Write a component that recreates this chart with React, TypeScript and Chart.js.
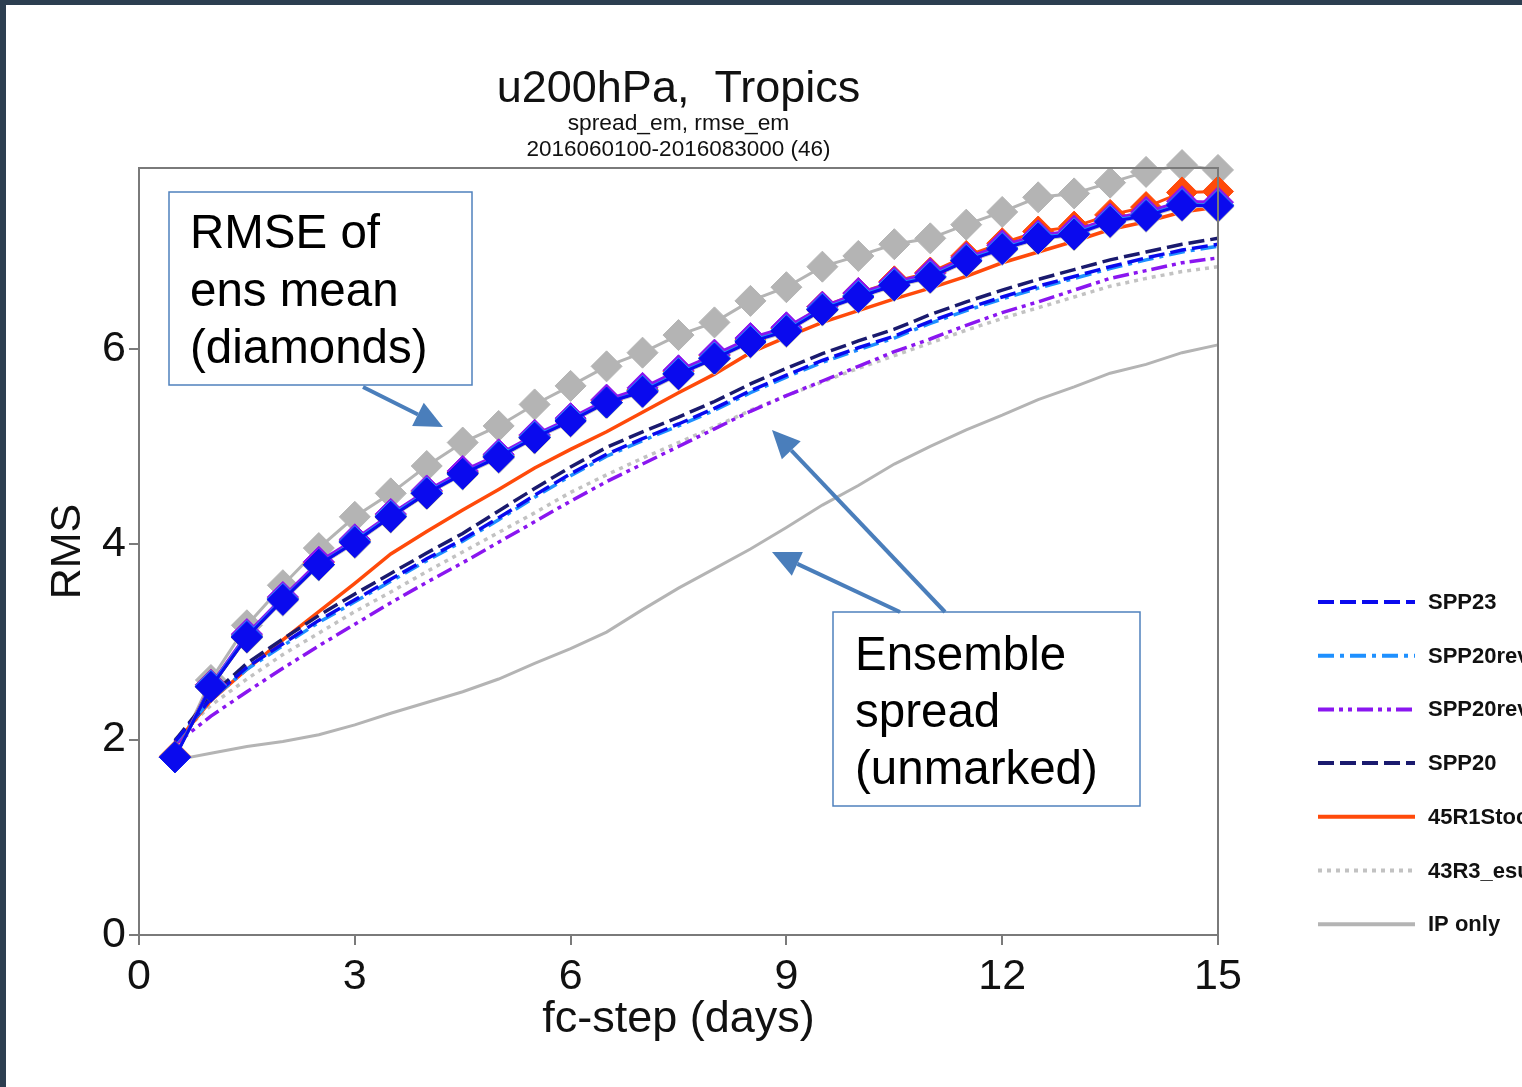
import React, { useEffect, useRef } from 'react';
import { Chart, registerables } from 'chart.js';

Chart.register(...registerables);

const FONT = '"Liberation Sans", Arial, Helvetica, sans-serif';

// forecast steps (days)
const steps = [0.5, 1, 1.5, 2, 2.5, 3, 3.5, 4, 4.5, 5, 5.5, 6, 6.5, 7, 7.5, 8, 8.5, 9, 9.5, 10, 10.5, 11, 11.5, 12, 12.5, 13, 13.5, 14, 14.5, 15];

// RMSE of ensemble mean (diamonds)
const rmseSPP23 = [1.82, 2.54, 3.05, 3.43, 3.79, 4.02, 4.28, 4.52, 4.72, 4.89, 5.09, 5.26, 5.45, 5.56, 5.74, 5.90, 6.07, 6.18, 6.40, 6.53, 6.65, 6.73, 6.90, 7.02, 7.13, 7.17, 7.30, 7.36, 7.47, 7.46];
const rmseSPP20rev1 = [1.82, 2.55, 3.06, 3.44, 3.79, 4.03, 4.29, 4.53, 4.72, 4.90, 5.10, 5.27, 5.45, 5.57, 5.75, 5.91, 6.08, 6.19, 6.41, 6.54, 6.66, 6.74, 6.91, 7.03, 7.14, 7.18, 7.31, 7.37, 7.48, 7.47];
const rmseSPP20rev2 = [1.82, 2.56, 3.08, 3.46, 3.82, 4.05, 4.31, 4.55, 4.75, 4.92, 5.12, 5.29, 5.48, 5.60, 5.78, 5.94, 6.11, 6.22, 6.43, 6.57, 6.68, 6.77, 6.93, 7.06, 7.16, 7.21, 7.33, 7.40, 7.51, 7.50];
const rmseSPP20 = [1.82, 2.54, 3.05, 3.44, 3.79, 4.03, 4.28, 4.52, 4.73, 4.90, 5.09, 5.27, 5.45, 5.57, 5.75, 5.90, 6.08, 6.19, 6.40, 6.54, 6.65, 6.74, 6.90, 7.03, 7.13, 7.18, 7.31, 7.37, 7.48, 7.47];
const rmse45R1 = [1.83, 2.56, 3.07, 3.45, 3.81, 4.04, 4.30, 4.54, 4.74, 4.91, 5.11, 5.28, 5.47, 5.58, 5.77, 5.93, 6.10, 6.21, 6.43, 6.57, 6.69, 6.78, 6.95, 7.08, 7.20, 7.25, 7.37, 7.45, 7.60, 7.61];
const rmse43R3 = [1.82, 2.54, 3.04, 3.42, 3.78, 4.01, 4.27, 4.51, 4.71, 4.88, 5.08, 5.25, 5.44, 5.55, 5.73, 5.89, 6.06, 6.17, 6.39, 6.52, 6.64, 6.72, 6.89, 7.01, 7.12, 7.16, 7.29, 7.35, 7.46, 7.45];
const rmseIP = [1.82, 2.61, 3.17, 3.58, 3.96, 4.28, 4.52, 4.80, 5.04, 5.21, 5.43, 5.62, 5.82, 5.96, 6.14, 6.27, 6.49, 6.63, 6.84, 6.95, 7.07, 7.13, 7.27, 7.40, 7.55, 7.59, 7.70, 7.81, 7.88, 7.83];

// Ensemble spread (unmarked)
const sprSPP23 = [1.98, 2.42, 2.74, 2.98, 3.22, 3.43, 3.64, 3.85, 4.05, 4.27, 4.50, 4.72, 4.92, 5.08, 5.23, 5.39, 5.57, 5.73, 5.88, 6.01, 6.13, 6.28, 6.41, 6.53, 6.64, 6.74, 6.84, 6.93, 7.01, 7.07];
const sprSPP20rev1 = [1.97, 2.41, 2.72, 2.96, 3.20, 3.41, 3.62, 3.83, 4.03, 4.25, 4.48, 4.70, 4.90, 5.06, 5.21, 5.37, 5.55, 5.71, 5.86, 5.99, 6.11, 6.26, 6.39, 6.51, 6.62, 6.72, 6.82, 6.91, 6.99, 7.05];
const sprSPP20rev2 = [1.95, 2.24, 2.49, 2.73, 2.96, 3.18, 3.40, 3.61, 3.81, 4.02, 4.23, 4.44, 4.64, 4.82, 5.00, 5.18, 5.36, 5.52, 5.67, 5.82, 5.97, 6.10, 6.24, 6.37, 6.48, 6.60, 6.72, 6.80, 6.88, 6.93];
const sprSPP20 = [1.99, 2.45, 2.78, 3.03, 3.27, 3.49, 3.70, 3.91, 4.11, 4.34, 4.57, 4.79, 4.99, 5.15, 5.30, 5.46, 5.64, 5.80, 5.95, 6.08, 6.20, 6.35, 6.48, 6.60, 6.71, 6.81, 6.91, 6.99, 7.07, 7.13];
const spr45R1 = [1.95, 2.40, 2.72, 3.02, 3.31, 3.60, 3.90, 4.13, 4.35, 4.56, 4.78, 4.97, 5.15, 5.35, 5.55, 5.74, 5.96, 6.12, 6.27, 6.39, 6.51, 6.62, 6.74, 6.88, 6.99, 7.10, 7.22, 7.30, 7.40, 7.45];
const spr43R3 = [2.00, 2.35, 2.62, 2.87, 3.09, 3.31, 3.51, 3.72, 3.92, 4.12, 4.32, 4.53, 4.71, 4.88, 5.04, 5.20, 5.37, 5.52, 5.66, 5.80, 5.93, 6.06, 6.19, 6.31, 6.42, 6.53, 6.64, 6.72, 6.79, 6.84];
const sprIP = [1.79, 1.86, 1.93, 1.98, 2.05, 2.15, 2.27, 2.38, 2.49, 2.62, 2.78, 2.93, 3.10, 3.33, 3.55, 3.75, 3.95, 4.17, 4.40, 4.60, 4.82, 5.00, 5.17, 5.32, 5.48, 5.61, 5.75, 5.84, 5.96, 6.04];

const legendLabels = ['SPP23', 'SPP20rev1', 'SPP20rev2', 'SPP20', '45R1Stoch', '43R3_esuite', 'IP only'];
const xTicks = [0, 3, 6, 9, 12, 15];
const yTicks = [0, 2, 4, 6];

const titleText = 'u200hPa,  Tropics';
const subtitle1 = 'spread_em, rmse_em';
const subtitle2 = '2016060100-2016083000 (46)';
const xTitle = 'fc-step (days)';
const yTitle = 'RMS';
const note1 = ['RMSE of', 'ens mean', '(diamonds)'];
const note2 = ['Ensemble', 'spread', '(unmarked)'];

// styles per experiment (same order as legendLabels)
const styles = [
  { color: '#0a0aee', dash: [16, 6] },
  { color: '#1e90ff', dash: [16, 6, 4, 6] },
  { color: '#8a16f0', dash: [16, 5, 4, 5, 4, 5] },
  { color: '#1a1a6e', dash: [16, 6] },
  { color: '#ff4a0a', dash: [] as number[] },
  { color: '#c2c2c2', dash: [4, 5] },
  { color: '#b4b4b4', dash: [] as number[] },
];
const rmseSeries = [rmseSPP23, rmseSPP20rev1, rmseSPP20rev2, rmseSPP20, rmse45R1, rmse43R3, rmseIP];
const spreadSeries = [sprSPP23, sprSPP20rev1, sprSPP20rev2, sprSPP20, spr45R1, spr43R3, sprIP];

const pts = (arr: number[]) => arr.map((v, i) => ({ x: steps[i], y: v }));

function drawArrow(ctx: CanvasRenderingContext2D, x1: number, y1: number, x2: number, y2: number) {
  const a = Math.atan2(y2 - y1, x2 - x1);
  const hl = 28, hw = 13;
  const bx = x2 - Math.cos(a) * hl, by = y2 - Math.sin(a) * hl;
  ctx.save();
  ctx.strokeStyle = '#4a7ebb';
  ctx.fillStyle = '#4a7ebb';
  ctx.lineWidth = 4;
  ctx.beginPath();
  ctx.moveTo(x1, y1);
  ctx.lineTo(bx, by);
  ctx.stroke();
  ctx.beginPath();
  ctx.moveTo(x2, y2);
  ctx.lineTo(bx + Math.sin(a) * hw, by - Math.cos(a) * hw);
  ctx.lineTo(bx - Math.sin(a) * hw, by + Math.cos(a) * hw);
  ctx.closePath();
  ctx.fill();
  ctx.restore();
}

function drawNote(ctx: CanvasRenderingContext2D, x: number, y: number, w: number, h: number, lines: string[], tx: number, baselines: number[]) {
  ctx.save();
  ctx.fillStyle = '#ffffff';
  ctx.fillRect(x, y, w, h);
  ctx.strokeStyle = '#4f81bd';
  ctx.lineWidth = 1.5;
  ctx.strokeRect(x, y, w, h);
  ctx.fillStyle = '#000';
  ctx.font = `47.5px ${FONT}`;
  ctx.textAlign = 'left';
  ctx.textBaseline = 'alphabetic';
  lines.forEach((l, i) => ctx.fillText(l, tx, baselines[i]));
  ctx.restore();
}

const decor = {
  id: 'decor',
  beforeDraw(chart: any) {
    const { ctx, width, height } = chart;
    ctx.save();
    ctx.fillStyle = '#ffffff';
    ctx.fillRect(0, 0, width, height);
    ctx.restore();
  },
  afterDraw(chart: any) {
    const { ctx, chartArea, width, height } = chart;
    ctx.save();
    // frame strips
    ctx.fillStyle = '#2c3e50';
    ctx.fillRect(0, 0, width, 5);
    ctx.fillRect(0, 0, 6, height);
    // top/right plot border
    ctx.strokeStyle = '#7a7a7a';
    ctx.lineWidth = 2;
    ctx.beginPath();
    ctx.moveTo(chartArea.left, chartArea.top);
    ctx.lineTo(chartArea.right, chartArea.top);
    ctx.lineTo(chartArea.right, chartArea.bottom);
    ctx.stroke();
    // titles
    const cx = (chartArea.left + chartArea.right) / 2;
    ctx.fillStyle = '#111';
    ctx.textAlign = 'center';
    ctx.textBaseline = 'alphabetic';
    ctx.font = `45px ${FONT}`;
    ctx.fillText(titleText, cx, 102);
    ctx.font = `22.8px ${FONT}`;
    ctx.fillText(subtitle1, cx, 130);
    ctx.font = `22.5px ${FONT}`;
    ctx.fillText(subtitle2, cx, 156);
    // axis titles
    ctx.font = `45px ${FONT}`;
    ctx.fillText(xTitle, cx, 1032);
    ctx.font = `43px ${FONT}`;
    ctx.save();
    ctx.translate(80, (chartArea.top + chartArea.bottom) / 2);
    ctx.rotate(-Math.PI / 2);
    ctx.fillText(yTitle, 0, 0);
    ctx.restore();
    // legend
    ctx.font = `bold 22px ${FONT}`;
    ctx.textAlign = 'left';
    ctx.textBaseline = 'middle';
    legendLabels.forEach((lab, i) => {
      const y = 602 + i * 53.7;
      const st = styles[i];
      ctx.save();
      ctx.strokeStyle = st.color;
      ctx.lineWidth = 4;
      ctx.setLineDash(st.dash);
      ctx.beginPath();
      ctx.moveTo(1318, y);
      ctx.lineTo(1415, y);
      ctx.stroke();
      ctx.restore();
      ctx.fillStyle = '#111';
      ctx.fillText(lab, 1428, y + 1);
    });
    // annotations
    drawNote(ctx, 169, 192, 303, 193, note1, 190, [248, 306, 363]);
    drawNote(ctx, 833, 612, 307, 194, note2, 855, [670, 727, 784]);
    drawArrow(ctx, 363, 387, 443, 427);
    drawArrow(ctx, 945, 612, 772, 430);
    drawArrow(ctx, 900, 612, 772, 552);
    ctx.restore();
  },
};

export default function App() {
  const ref = useRef<HTMLCanvasElement>(null);
  useEffect(() => {
    const datasets: any[] = [];
    rmseSeries.forEach((arr, i) => {
      datasets.push({
        label: legendLabels[i] + ' rmse',
        data: pts(arr),
        borderColor: styles[i].color,
        backgroundColor: styles[i].color,
        borderWidth: 3,
        pointStyle: 'rectRot',
        pointRadius: 15.5,
        pointBorderWidth: 1,
        pointBackgroundColor: i === 5 ? '#bdbdbd' : styles[i].color,
        pointBorderColor: i === 5 ? '#bdbdbd' : styles[i].color,
        order: i === 6 ? 20 : i,
        clip: false,
      });
    });
    spreadSeries.forEach((arr, i) => {
      datasets.push({
        label: legendLabels[i] + ' spread',
        data: pts(arr),
        borderColor: styles[i].color,
        borderWidth: i === 6 ? 3 : 3.5,
        borderDash: styles[i].dash,
        pointRadius: 0,
        order: 10 + i,
        clip: false,
      });
    });
    const chart = new Chart(ref.current!, {
      type: 'line',
      data: { datasets },
      plugins: [decor],
      options: {
        animation: false,
        responsive: false,
        devicePixelRatio: 1,
        layout: { padding: { top: 168, right: 304, left: 0, bottom: 0 } },
        plugins: { legend: { display: false }, tooltip: { enabled: false }, title: { display: false } },
        elements: { line: { tension: 0 } },
        scales: {
          x: {
            type: 'linear',
            min: 0,
            max: 15,
            afterFit: (s: any) => { s.height = 152; },
            afterBuildTicks: (s: any) => { s.ticks = xTicks.map((v) => ({ value: v })); },
            ticks: { font: { family: FONT, size: 43 }, color: '#111', padding: 6, maxRotation: 0 },
            grid: { drawOnChartArea: false, drawTicks: true, tickLength: 10, color: '#7a7a7a', lineWidth: 2 },
            border: { display: true, color: '#7a7a7a', width: 2 },
          },
          y: {
            type: 'linear',
            min: 0,
            max: 7.85,
            afterFit: (s: any) => { s.width = 139; },
            afterBuildTicks: (s: any) => { s.ticks = yTicks.map((v) => ({ value: v })); },
            ticks: { font: { family: FONT, size: 43 }, color: '#111', padding: 3 },
            grid: { drawOnChartArea: false, drawTicks: true, tickLength: 10, color: '#7a7a7a', lineWidth: 2 },
            border: { display: true, color: '#7a7a7a', width: 2 },
          },
        },
      } as any,
    });
    return () => chart.destroy();
  }, []);
  return (
    <div style={{ position: 'fixed', left: 0, top: 0, width: 1522, height: 1087, background: '#fff' }}>
      <canvas ref={ref} width={1522} height={1087} style={{ display: 'block', width: 1522, height: 1087 }} />
    </div>
  );
}
